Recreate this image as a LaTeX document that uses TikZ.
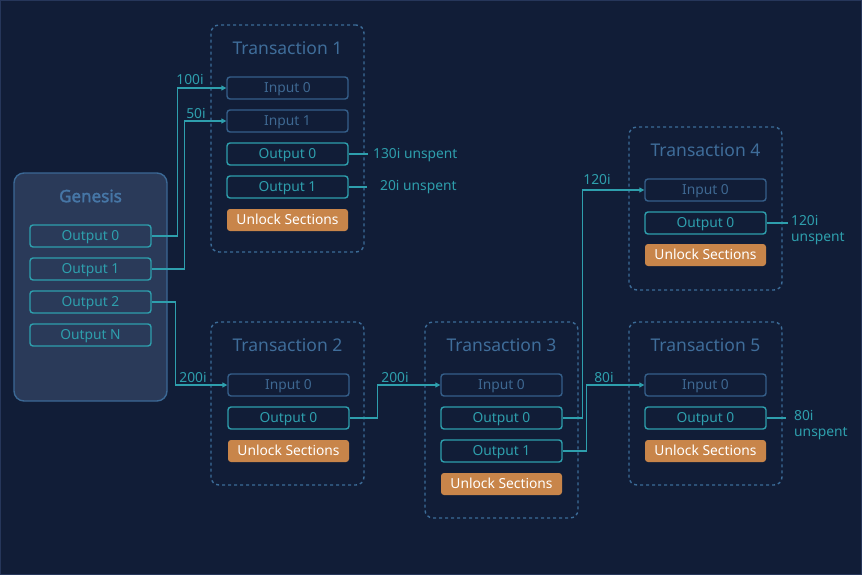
\documentclass[tikz,border=0pt]{standalone}
\usepackage{fontspec}
\setmainfont{Noto Sans}
\newfontfamily\genfont{Noto Sans}[FakeBold=2]
\usetikzlibrary{arrows.meta}

\definecolor{bgcol}{HTML}{111D37}
\definecolor{edgecol}{HTML}{26365A}
\definecolor{genfill}{HTML}{2A3A59}
\definecolor{gencol}{HTML}{3B6895}
\definecolor{gentext}{HTML}{4676A6}
\definecolor{teal}{HTML}{2E9FAD}
\definecolor{inpcol}{HTML}{355F8A}
\definecolor{inptext}{HTML}{3E6892}
\definecolor{dashcol}{HTML}{3C6C98}
\definecolor{titlecol}{HTML}{3F6D9A}
\definecolor{unlockcol}{HTML}{C8854A}

\tikzset{
  txbox/.style={draw=dashcol,line width=1.4pt,dash pattern=on 3pt off 3pt,
    rounded corners=8pt,minimum width=153pt},
  txtitle/.style={text=titlecol,font=\fontsize{17.5}{20}\selectfont},
  inbox/.style={draw=inpcol,line width=1.4pt,rounded corners=3pt,
    minimum width=121pt,minimum height=22pt,inner sep=0pt,
    text height=9.7pt,text depth=0pt,
    text=inptext,font=\fontsize{13.8}{16}\selectfont},
  outbox/.style={inbox,draw=teal,text=teal},
  unlock/.style={inbox,draw=none,fill=unlockcol,text=white},
  wire/.style={draw=teal,line width=1.2pt},
  amount/.style={text=teal,font=\fontsize{13.8}{16}\selectfont,inner sep=0pt},
}

\begin{document}
\begin{tikzpicture}[x=1pt,y=-1pt]
\fill[bgcol] (0,0) rectangle (862,575);
\draw[edgecol,line width=1pt] (0.5,0.5) rectangle (861.5,574.5);

% genesis
\node[draw=gencol,fill=genfill,line width=1.4pt,rounded corners=10pt,
  minimum width=153pt,minimum height=228pt] (gen) at (90.5,287) {};
\node[text=gentext,font=\genfont\fontsize{17}{20}\selectfont] at (90.5,196) {Genesis};
\foreach \i/\y in {0/236,1/269,2/302,N/335}
  \node[outbox,fill=genfill] (g\i) at (90.5,\y) {Output \i};

% transaction 1
\node[txbox,minimum height=227pt] (tx1) at (287.5,138.5) {};
\node[txtitle] at (287.5,48) {Transaction 1};
\node[inbox] (t1in0) at (287.5,88) {Input 0};
\node[inbox] (t1in1) at (287.5,121) {Input 1};
\node[outbox] (t1out0) at (287.5,154) {Output 0};
\node[outbox] (t1out1) at (287.5,187) {Output 1};
\node[unlock] (t1un) at (287.5,220) {Unlock Sections};

% transaction 2
\node[txbox,minimum height=163pt] (tx2) at (287.5,403.5) {};
\node[txtitle] at (287.5,345) {Transaction 2};
\node[inbox] (t2in0) at (288.5,385) {Input 0};
\node[outbox] (t2out0) at (288.5,418) {Output 0};
\node[unlock] (t2un) at (288.5,451) {Unlock Sections};

% transaction 3
\node[txbox,minimum height=196pt] (tx3) at (501.5,420) {};
\node[txtitle] at (501.5,345) {Transaction 3};
\node[inbox] (t3in0) at (501.5,385) {Input 0};
\node[outbox] (t3out0) at (501.5,418) {Output 0};
\node[outbox] (t3out1) at (501.5,451) {Output 1};
\node[unlock] (t3un) at (501.5,484) {Unlock Sections};

% transaction 4
\node[txbox,minimum height=163pt] (tx4) at (705.5,208.5) {};
\node[txtitle] at (705.5,150) {Transaction 4};
\node[inbox] (t4in0) at (705.5,190) {Input 0};
\node[outbox] (t4out0) at (705.5,223) {Output 0};
\node[unlock] (t4un) at (705.5,255) {Unlock Sections};

% transaction 5
\node[txbox,minimum height=163pt] (tx5) at (705.5,403.5) {};
\node[txtitle] at (705.5,345) {Transaction 5};
\node[inbox] (t5in0) at (705.5,385) {Input 0};
\node[outbox] (t5out0) at (705.5,418) {Output 0};
\node[unlock] (t5un) at (705.5,451) {Unlock Sections};

% transfers
\draw[wire,-{Triangle[length=5pt,width=5pt]}] (g0.east) -- ++(26,0) |- (t1in0.west);
\draw[wire,-{Triangle[length=5pt,width=5pt]}] (g1.east) -- ++(33,0) |- (t1in1.west);
\draw[wire,-{Triangle[length=5pt,width=5pt]}] (g2.east) -- ++(24,0) |- (t2in0.west);
\draw[wire,-{Triangle[length=5pt,width=5pt]}] (t2out0.east) -- ++(28,0) |- (t3in0.west);
\draw[wire,-{Triangle[length=5pt,width=5pt]}] (t3out0.east) -- ++(20,0) |- (t4in0.west);
\draw[wire,-{Triangle[length=5pt,width=5pt]}] (t3out1.east) -- ++(24,0) |- (t5in0.west);

\node[amount] (a1) at (190,79) {100i};
\node[amount] (a2) at (196,113) {50i};
\node[amount] (a3) at (193,377) {200i};
\node[amount] (a4) at (395,377) {200i};
\node[amount] (a5) at (597,179) {120i};
\node[amount] (a6) at (604,377) {80i};

% unspent outputs
\coordinate (u1) at (368,154);
\coordinate (u2) at (367,187);
\coordinate (u4) at (788,223);
\coordinate (u5) at (786,418);
\draw[wire] (t1out0.east) -- (u1);
\draw[wire] (t1out1.east) -- (u2);
\draw[wire] (t4out0.east) -- (u4);
\draw[wire] (t5out0.east) -- (u5);
\node[amount,anchor=west] at (373,155) {130i unspent};
\node[amount,anchor=west] at (380,187) {20i unspent};
\node[amount,anchor=north west,align=left] at (791,215) {120i\\unspent};
\node[amount,anchor=north west,align=left] at (794,410) {80i\\unspent};
\end{tikzpicture}
\end{document}
